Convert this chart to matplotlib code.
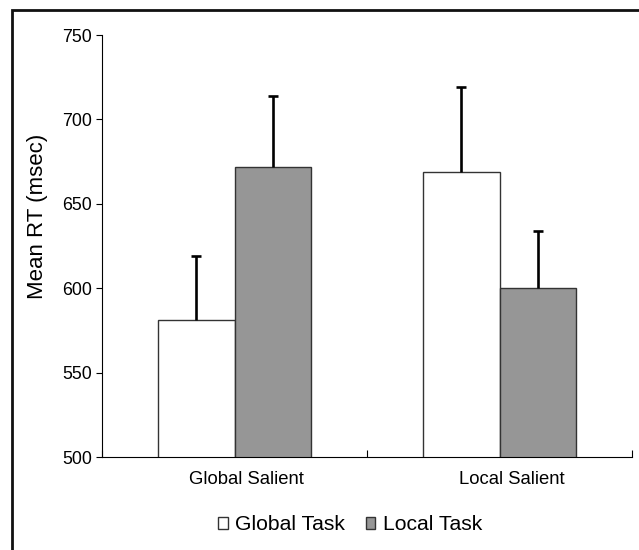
import numpy as np
from matplotlib import pyplot as plt
from matplotlib.patches import Rectangle
from matplotlib.transforms import ScaledTranslation

plt.rcParams["font.family"] = ["Liberation Sans", "DejaVu Sans"]

groups = ["Global Salient", "Local Salient"]
series = ["Global Task", "Local Task"]
global_task = [581, 669]
local_task = [672, 600]
global_err = [38, 50]
local_err = [42, 34]

fig = plt.figure(figsize=(6.39, 5.5), dpi=100)
# outer frame of the chart area
fig.patches.append(Rectangle((12 / 639, -0.1), 1.2, 1 - 10 / 550 + 0.1,
                             transform=fig.transFigure, fill=False,
                             edgecolor="#111111", linewidth=2))

ax = fig.add_axes([102 / 639, 1 - 457 / 550, 530 / 639, 422 / 550])
x = np.arange(len(groups))
w = 0.2875
ax.bar(x - w / 2, global_task, w, color="white", edgecolor="#333333",
       linewidth=1, label=series[0])
ax.bar(x + w / 2, local_task, w, color="#969696", edgecolor="#333333",
       linewidth=1, label=series[1])

# upward-only error bars
for pos, vals, errs in [(x - w / 2, global_task, global_err),
                        (x + w / 2, local_task, local_err)]:
    tops = np.array(vals) + np.array(errs)
    ax.vlines(pos, vals, tops, colors="black", linewidth=1.9)
    ax.plot(pos, tops, "_", color="black", markersize=7.5, mew=1.9)

ax.set_xlim(-0.5, 1.5)
ax.set_ylim(500, 750)
ax.set_yticks(np.arange(500, 751, 50))
ax.set_xticks([-0.5, 0.5, 1.5], minor=False)
ax.set_xticklabels([])
ax.set_xticks(x, minor=True)
ax.set_xticklabels(groups, minor=True)
ax.tick_params(axis="x", which="minor", length=0, pad=10, labelsize=13.3)
ax.tick_params(axis="x", which="major", length=5, direction="in")
ax.tick_params(axis="y", length=4, pad=3, labelsize=12.8)
offset = ScaledTranslation(12 / 100, 0, fig.dpi_scale_trans)
for lab in ax.get_xticklabels(minor=True):
    lab.set_transform(lab.get_transform() + offset)
for s in ["top", "right"]:
    ax.spines[s].set_visible(False)
ax.set_ylabel("Mean RT (msec)", fontsize=16)
ax.yaxis.set_label_coords(-0.102, 0.571)

ax.legend(loc="center", bbox_to_anchor=(0.468, -0.161), ncol=2, frameon=False,
          fontsize=15.2, handlelength=0.45, handleheight=0.45, handletextpad=0.35,
          columnspacing=1.0)

plt.savefig("out.png")
